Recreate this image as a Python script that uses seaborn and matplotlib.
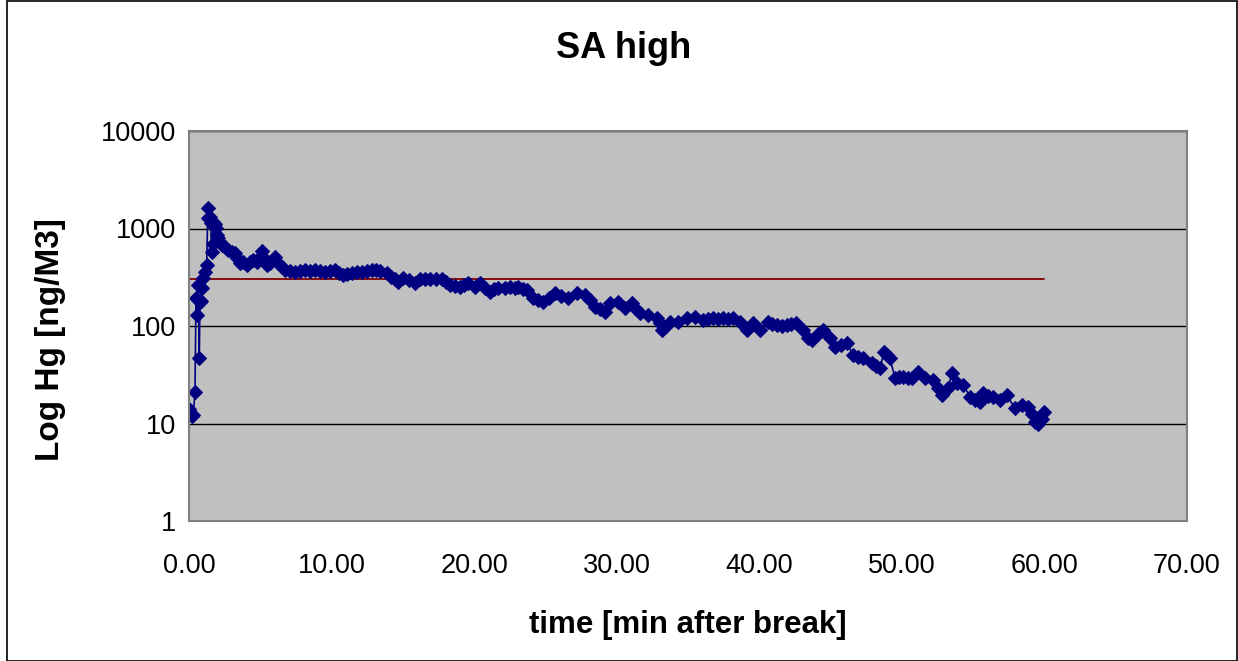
import matplotlib
matplotlib.use("Agg")
import matplotlib.pyplot as plt
import matplotlib.ticker as mticker
from matplotlib.patches import Rectangle
import seaborn as sns
import pandas as pd

# readings taken off the reference chart
minutes = [
    0.0, 0.1, 0.2, 0.3, 0.42, 0.49, 0.55, 0.65, 0.72, 0.77, 0.83, 0.89, 1.0, 1.1,
    1.24, 1.31, 1.35, 1.45, 1.52, 1.59, 1.65, 1.7, 1.8, 1.87, 1.95, 2.06, 2.2,
    2.29, 2.5, 2.76, 3.0, 3.23, 3.4, 3.58, 3.8, 4.05, 4.3, 4.51, 4.75, 4.9, 5.1,
    5.25, 5.45, 5.7, 6.03, 6.27, 6.5, 6.73, 7.1, 7.43, 7.8, 8.14, 8.5, 8.84, 9.2,
    9.54, 9.9, 10.24, 10.55, 10.82, 11.1, 11.41, 11.75, 12.11, 12.45, 12.81,
    13.1, 13.4, 13.87, 14.2, 14.45, 14.68, 15.03, 15.4, 15.85, 16.2, 16.55,
    16.9, 17.3, 17.72, 18.0, 18.3, 18.65, 19.0, 19.3, 19.59, 20.06, 20.41,
    20.75, 21.1, 21.4, 21.7, 22.16, 22.5, 22.87, 23.1, 23.4, 23.69, 24.15,
    24.5, 24.85, 25.25, 25.67, 26.1, 26.6, 27.19, 27.78, 28.1, 28.48, 28.8,
    29.18, 29.53, 30.11, 30.58, 31.05, 31.35, 31.63, 32.2, 32.8, 33.04, 33.2,
    33.4, 33.74, 34.3, 34.9, 35.5, 36.07, 36.4, 36.77, 37.1, 37.48, 37.8,
    38.18, 38.65, 39.12, 39.58, 40.05, 40.6, 40.9, 41.22, 41.6, 41.92, 42.25,
    42.6, 43.1, 43.44, 43.67, 44.1, 44.49, 44.96, 45.3, 45.7, 46.13, 46.6,
    46.95, 47.3, 47.9, 48.2, 48.47, 48.75, 48.95, 49.17, 49.52, 49.8, 50.1,
    50.4, 50.69, 51.15, 51.62, 52.2, 52.5, 52.8, 53.26, 53.5, 53.85, 54.3,
    54.78, 55.1, 55.48, 55.7, 56.05, 56.4, 56.88, 57.35, 57.94, 58.4, 58.87,
    59.1, 59.34, 59.57, 59.8, 60.0,
]
hg = [
    14, 13, 12, 12.2, 21, 194, 130, 263, 47, 176, 180, 245, 310, 357,
    425, 1290, 1620, 1300, 1150, 575, 700, 1170, 1100, 1020, 860, 790, 720,
    675, 640, 600, 570, 557, 500, 440, 450, 422, 450, 475, 457, 500, 592,
    500, 422, 440, 507, 440, 400, 375, 365, 360, 370, 375, 370, 375, 368,
    360, 370, 375, 350, 333, 345, 352, 355, 360, 368, 375,
    372, 368, 347, 316, 300, 285, 309, 295, 274, 301, 300,
    301, 300, 301, 285, 263, 258, 253, 265, 274, 253, 274,
    245, 225, 238, 244, 244, 253, 244, 253, 240, 234, 192,
    185, 177, 195, 216, 205, 192, 216, 208, 185, 158, 148,
    140, 171, 177, 152, 171, 150, 135, 130, 120, 107, 91,
    98, 111, 111, 120, 125, 115, 118, 120, 118, 120, 117,
    120, 111, 91, 107, 91, 111, 105, 102, 100, 102, 104,
    107, 91, 75, 72, 82, 91, 75, 61, 64, 66.5, 50.5,
    48, 46.6, 41.4, 39, 36.8, 54.5, 50, 46.6, 29.1, 30, 30.2,
    29, 29.1, 34, 29.1, 27.9, 23, 19.6, 23, 32.7, 25.8, 24.8,
    18.8, 17.5, 16.7, 20.4, 19, 18.8, 17.4, 19.6, 14.3, 15.5, 14.9,
    12.5, 10.4, 10.0, 11, 13.2,
]
limit_x = [0, 60]
limit_y = [300, 300]

y_ticks = [1, 10, 100, 1000, 10000]
x_ticks = [0, 10, 20, 30, 40, 50, 60, 70]

df = pd.DataFrame({"time": minutes, "hg": hg})
limit = pd.DataFrame({"time": limit_x, "hg": limit_y})

sns.set_style("white")
plt.rcParams["font.family"] = ["Liberation Sans", "DejaVu Sans"]
plt.rcParams["text.color"] = "black"
plt.rcParams["xtick.color"] = "black"
plt.rcParams["ytick.color"] = "black"

W, H = 1238, 661
fig = plt.figure(figsize=(W / 100, H / 100), dpi=100)
ax = fig.add_axes([189 / W, 1 - 521 / H, 998 / W, 390 / H])
ax.set_facecolor("#c0c0c0")

ax.set_yscale("log")
ax.set_ylim(1, 10000)
ax.set_xlim(0, 70)
ax.set_yticks(y_ticks)
ax.yaxis.set_major_formatter(mticker.FuncFormatter(lambda v, p: f"{v:g}"))
ax.yaxis.set_minor_locator(mticker.NullLocator())
ax.set_xticks(x_ticks)
ax.xaxis.set_major_formatter(mticker.FuncFormatter(lambda v, p: f"{v:.2f}"))
ax.grid(axis="y", color="black", linewidth=1)
ax.set_axisbelow(True)

sns.lineplot(data=limit, x="time", y="hg", ax=ax, color="#800000",
             linewidth=1.3, estimator=None)
sns.lineplot(data=df, x="time", y="hg", ax=ax, color="#000080", linewidth=1.2,
             marker="D", markersize=7.5, markeredgecolor="#000080",
             estimator=None, sort=False)

for s in ax.spines.values():
    s.set_color("#808080")
    s.set_linewidth(1.5)

ax.tick_params(axis="both", direction="out", length=5, width=1,
               color="black", labelsize=19.5)
ax.tick_params(axis="x", pad=18)
ax.tick_params(axis="y", pad=4)
ax.set_xlabel("")
ax.set_ylabel("")

fig.text(624 / W, 1 - 48 / H, "SA high", fontsize=26, fontweight="bold",
         ha="center", va="center")
fig.text(688 / W, 1 - 625 / H, "time [min after break]", fontsize=22.5,
         fontweight="bold", ha="center", va="center")
fig.text(50 / W, 1 - 340 / H, "Log Hg [ng/M3]", fontsize=24, fontweight="bold",
         ha="center", va="center", rotation=90)

fig.patches.append(Rectangle((0.006, 0.0), 0.993, 0.998, transform=fig.transFigure,
                             fill=False, edgecolor="black", linewidth=1.2))

fig.savefig("out.png", dpi=100)
